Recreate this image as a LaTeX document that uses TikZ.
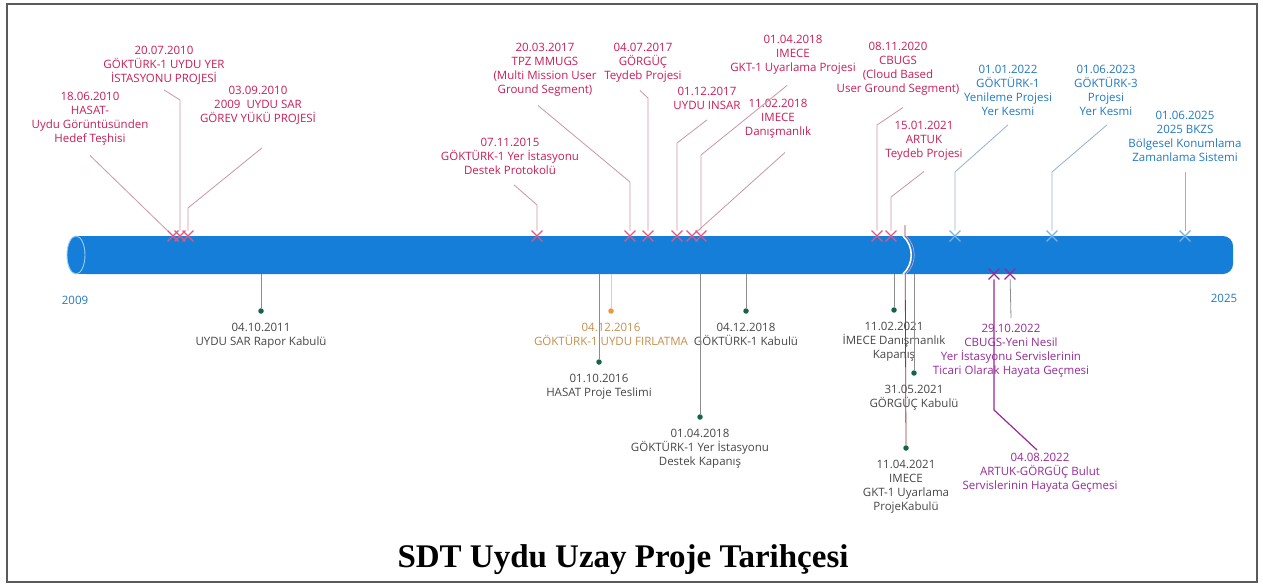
\documentclass[tikz,border=0pt]{standalone}
\usepackage{fontspec}
\setmainfont{Open Sans}
\newfontfamily\titlefont{Liberation Serif}
\usetikzlibrary{positioning, shapes.misc, backgrounds}

\definecolor{tubeblue}{RGB}{20,126,216}
\definecolor{tubeedge}{RGB}{150,205,245}
\definecolor{evred}{RGB}{200,30,86}
\definecolor{evblue}{RGB}{34,120,195}
\definecolor{evgreen}{RGB}{22,100,70}
\definecolor{evgray}{RGB}{70,70,70}
\definecolor{evorange}{RGB}{238,150,62}
\definecolor{evtan}{RGB}{196,142,78}
\definecolor{evpurple}{RGB}{150,42,152}
\definecolor{leadred}{RGB}{200,150,165}
\definecolor{leadblue}{RGB}{150,178,205}
\definecolor{leadgray}{RGB}{140,140,140}
\definecolor{leadmaroon}{RGB}{150,50,60}
\definecolor{markred}{RGB}{230,85,125}
\definecolor{markblue}{RGB}{120,178,228}
\definecolor{framegray}{RGB}{90,90,90}

\newcommand{\evfont}{\fontsize{11.5}{14}\selectfont}

\begin{document}
\begin{tikzpicture}[
    x=1pt, y=-1pt,
    % event texts above the tube
    toplabel/.style={align=center, inner sep=0pt, anchor=north, font=\evfont},
    redlabel/.style={toplabel, text=evred},
    bluelabel/.style={toplabel, text=evblue},
    % event texts below the tube
    botlabel/.style={align=center, inner sep=0pt, font=\evfont, text=evgray},
    % cross marks on the tube edge
    xmark/.style={cross out, draw, line width=1.3pt, minimum size=9.5pt, inner sep=0pt},
    % dots under the tube
    gdot/.style={circle, fill=evgreen, inner sep=0pt, minimum size=5.5pt},
    ldr/.style={line width=0.8pt},
    tube/.style={rectangle, fill=tubeblue, rounded corners=10pt, inner sep=0pt}
]

% 0. frame and title
\useasboundingbox (0,0) rectangle (1263,586);
\draw[framegray, line width=1.4pt] (7,4) rectangle (1257,582);
\node[font=\titlefont\bfseries\fontsize{33}{39}\selectfont] (title) at (623,560) {SDT Uydu Uzay Proje Tarihçesi};

% 1. the tube
\node[tube, minimum width=1157pt, minimum height=38pt] (tube) at (654.5,255) {};
\fill[tubeblue] (76,236) rectangle (96,274);
\draw[tubeedge, fill=tubeblue, line width=0.9pt] (76,255) ellipse [x radius=9pt, y radius=19pt];
% break in the tube
\coordinate (brk) at (905,225);
\draw[white, line width=1.6pt] (903,236) .. controls (914,246) and (914,264) .. (903,274);
\draw[markred!60, line width=0.7pt] (906,236) .. controls (917,246) and (917,264) .. (906,274);

\node[text=evblue, font=\evfont] (y2009) at (75,300) {2009};
\node[text=evblue, font=\evfont] (y2025) at (1224,298) {2025};

% 2. cross marks on the tube
\node[xmark, draw=markred] (x_hasat) at (173,236) {};
\node[xmark, draw=markred] (x_gokturk_yer) at (180,236) {};
\node[xmark, draw=markred] (x_sar_yuk) at (188,236) {};
\node[xmark, draw=markred] (x_protokol) at (537,236) {};
\node[xmark, draw=markred] (x_mmugs) at (630,236) {};
\node[xmark, draw=markred] (x_gorguc) at (648,236) {};
\node[xmark, draw=markred] (x_insar) at (677,236) {};
\node[xmark, draw=markred] (x_imece_dan) at (692,236) {};
\node[xmark, draw=markred] (x_imece_gkt) at (701,236) {};
\node[xmark, draw=markred] (x_cbugs) at (877,236) {};
\node[xmark, draw=markred] (x_artuk) at (891,236) {};
\node[xmark, draw=markblue] (x_yenileme) at (955,236) {};
\node[xmark, draw=markblue] (x_gokturk3) at (1052,236) {};
\node[xmark, draw=markblue] (x_bkzs) at (1185,236) {};

% 3. events above the tube
\node[redlabel] (hasat) at (90,92) {18.06.2010\\HASAT-\\Uydu Görüntüsünden\\Hedef Teşhisi};
\node[redlabel] (gokturk_yer) at (164,46) {20.07.2010\\GÖKTÜRK-1 UYDU YER\\İSTASYONU PROJESİ};
\node[redlabel] (sar_yuk) at (258,86) {03.09.2010\\2009\ \ UYDU SAR\\GÖREV YÜKÜ PROJESİ};
\node[redlabel] (protokol) at (510,138) {07.11.2015\\GÖKTÜRK-1 Yer İstasyonu\\Destek Protokolü};
\node[redlabel] (mmugs) at (545,43) {20.03.2017\\TPZ MMUGS\\(Multi Mission User\\Ground Segment)};
\node[redlabel] (gorguc) at (643,43) {04.07.2017\\GÖRGÜÇ\\Teydeb Projesi};
\node[redlabel] (insar) at (707,87) {01.12.2017\\UYDU INSAR};
\node[redlabel] (imece_gkt) at (793,35) {01.04.2018\\IMECE\\GKT-1 Uyarlama Projesi};
\node[redlabel] (imece_dan) at (778,99) {11.02.2018\\IMECE\\Danışmanlık};
\node[redlabel] (cbugs) at (898,42) {08.11.2020\\CBUGS\\(Cloud Based\\User Ground Segment)};
\node[redlabel] (artuk) at (924,121) {15.01.2021\\ARTUK\\Teydeb Projesi};
\node[bluelabel] (yenileme) at (1008,65) {01.01.2022\\GÖKTÜRK-1\\Yenileme Projesi\\Yer Kesmi};
\node[bluelabel] (gokturk3) at (1106,65) {01.06.2023\\GÖKTÜRK-3\\Projesi\\Yer Kesmi};
\node[bluelabel] (bkzs) at (1185,111) {01.06.2025\\2025 BKZS\\Bölgesel Konumlama\\Zamanlama Sistemi};

% 4. leader lines from the texts down to the marks
\draw[ldr, leadred] ([yshift=-10pt]hasat.south) -- (x_hasat);
\draw[ldr, leadred] ([yshift=-5pt]gokturk_yer.south) -- (x_gokturk_yer |- 0,100) -- (x_gokturk_yer);
\draw[ldr, leadred] ([xshift=4pt, yshift=-23pt]sar_yuk.south) -- (x_sar_yuk |- 0,208) -- (x_sar_yuk);
\draw[ldr, leadred] ([xshift=4pt, yshift=-10pt]protokol.south) -- (x_protokol |- 0,205) -- (x_protokol);
\draw[ldr, leadred] ([xshift=-7pt, yshift=-9pt]mmugs.south) -- (x_mmugs |- 0,182) -- (x_mmugs);
\draw[ldr, leadred] ([xshift=-3pt, yshift=-8pt]gorguc.south) -- (x_gorguc |- 0,98) -- (x_gorguc);
\draw[ldr, leadred] ([yshift=-10pt]insar.south) -- (x_insar |- 0,143) -- (x_insar);
\draw[ldr, leadred] ([xshift=-6pt, yshift=-11pt]imece_gkt.south) -- (x_imece_gkt |- 0,155) -- (x_imece_gkt);
\draw[ldr, leadred] ([xshift=7pt, yshift=-14pt]imece_dan.south) -- (x_imece_dan);
\draw[ldr, leadred] ([xshift=5pt, yshift=-12pt]cbugs.south) -- (x_cbugs |- 0,125) -- (x_cbugs);
\draw[ldr, leadred] ([yshift=-11pt]artuk.south) -- (x_artuk |- 0,197) -- (x_artuk);
\draw[ldr, leadblue] ([yshift=-9pt]yenileme.south) -- (x_yenileme |- 0,172) -- (x_yenileme);
\draw[ldr, leadblue] ([xshift=1pt, yshift=-9pt]gokturk3.south) -- (x_gokturk3 |- 0,172) -- (x_gokturk3);
\draw[ldr, leadblue] ([yshift=-10pt]bkzs.south) -- (x_bkzs);

% 5. events below the tube
\node[gdot] (d_sar_kabul) at (261,311) {};
\node[botlabel, below=9pt of d_sar_kabul] (sar_kabul) {04.10.2011\\UYDU SAR Rapor Kabulü};
\node[gdot] (d_hasat_teslim) at (599,362) {};
\node[botlabel, below=9pt of d_hasat_teslim] (hasat_teslim) {01.10.2016\\HASAT Proje Teslimi};
\node[gdot, fill=evorange] (d_firlatma) at (611,311) {};
\node[botlabel, text=evtan, below=9pt of d_firlatma] (firlatma) {04.12.2016\\GÖKTÜRK-1 UYDU FIRLATMA};
\node[gdot] (d_destek_kapanis) at (700,417) {};
\node[botlabel, below=9pt of d_destek_kapanis] (destek_kapanis) {01.04.2018\\GÖKTÜRK-1 Yer İstasyonu\\Destek Kapanış};
\node[gdot] (d_gokturk_kabul) at (746,311) {};
\node[botlabel, below=9pt of d_gokturk_kabul] (gokturk_kabul) {04.12.2018\\GÖKTÜRK-1 Kabulü};
\node[gdot] (d_imece_kapanis) at (894,310) {};
\node[botlabel, below=9pt of d_imece_kapanis] (imece_kapanis) {11.02.2021\\İMECE Danışmanlık\\Kapanış};
\node[gdot] (d_gorguc_kabul) at (914,373) {};
\node[botlabel, below=9pt of d_gorguc_kabul] (gorguc_kabul) {31.05.2021\\GÖRGÜÇ Kabulü};
\node[gdot] (d_imece_kabul) at (906,448) {};
\node[botlabel, below=9pt of d_imece_kabul] (imece_kabul) {11.04.2021\\IMECE\\GKT-1 Uyarlama\\ProjeKabulü};

\draw[ldr, leadgray] (d_sar_kabul |- tube.south) -- (d_sar_kabul);
\draw[ldr, leadgray] (d_hasat_teslim |- tube.south) -- (d_hasat_teslim);
\draw[ldr, leadgray!40] (d_firlatma |- tube.south) -- (d_firlatma);
\draw[ldr, leadgray] (d_destek_kapanis |- tube.south) -- (d_destek_kapanis);
\draw[ldr, leadgray] (d_gokturk_kabul |- tube.south) -- (d_gokturk_kabul);
\draw[ldr, leadgray] (d_imece_kapanis |- tube.south) -- (d_imece_kapanis);
\draw[ldr, leadgray] (d_gorguc_kabul |- tube.south) -- (d_gorguc_kabul);
\begin{scope}[on background layer]
\draw[ldr, leadmaroon] (brk) -- (d_imece_kabul);
\end{scope}

% 6. purple events under the tube
\node[xmark, draw=evpurple] (x_artuk_bulut) at (994,274) {};
\node[xmark, draw=evpurple] (x_cbugs_yeni) at (1010,274) {};
\node[botlabel, text=evpurple, anchor=north] (cbugs_yeni) at (1011,324) {29.10.2022\\CBUGS-Yeni Nesil\\Yer İstasyonu Servislerinin\\Ticari Olarak Hayata Geçmesi};
\node[botlabel, text=evpurple, anchor=north] (artuk_bulut) at (1040,453) {04.08.2022\\ARTUK-GÖRGÜÇ Bulut\\Servislerinin Hayata Geçmesi};
\draw[ldr, leadgray] (x_cbugs_yeni) -- ([yshift=6pt]cbugs_yeni.north);
\draw[evpurple, line width=1.2pt] (x_artuk_bulut) -- (x_artuk_bulut |- 0,410) -- ([xshift=-3pt, yshift=3pt]artuk_bulut.north);

\end{tikzpicture}
\end{document}
